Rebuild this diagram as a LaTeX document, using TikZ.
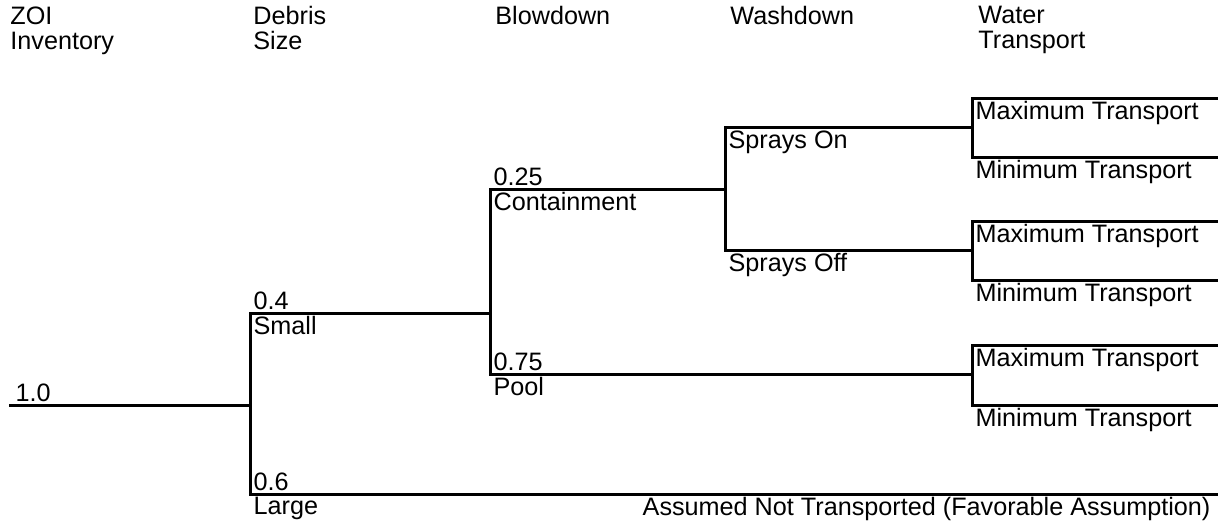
\documentclass[tikz,border=0pt]{standalone}
\usepackage{fontspec}
\setmainfont{Liberation Sans}
\usepackage{tikz}
\definecolor{ink}{HTML}{000000}
\tikzset{
  branch/.style={draw=ink, line width=1.5pt, line cap=rect, line join=miter},
  lab/.style={text=ink, font=\fontsize{12.6}{12.5}\selectfont, inner sep=1.6pt},
  hdr/.style={text=ink, font=\fontsize{12.6}{12.6}\selectfont, align=left, anchor=north west, inner sep=0pt},
  up/.style={lab, anchor=south west},
  dn/.style={lab, anchor=north west},
}

\begin{document}
\begin{tikzpicture}[x=0.5pt, y=-0.5pt]
  \useasboundingbox (0,0) rectangle (1218,521);
  % column headers
  \node[hdr] (hzoi) at (10,6) {ZOI\\Inventory};
  \node[hdr] (hsize) at (253,6) {Debris\\Size};
  \node[hdr] (hblow) at (495,6) {Blowdown};
  \node[hdr] (hwash) at (730,6) {Washdown};
  \node[hdr] (hwater) at (978,6) {Water\\Transport};
  % branch points
  \coordinate (zoi) at (10,405);
  \coordinate (zoiE) at (250,405);
  \coordinate (small) at (250,313);
  \coordinate (smallE) at (490,313);
  \coordinate (large) at (250,494);
  \coordinate (largeE) at (1218,494);
  \coordinate (cont) at (490,189);
  \coordinate (contE) at (725,189);
  \coordinate (pool) at (490,374);
  \coordinate (poolE) at (972,374);
  \coordinate (on) at (725,127);
  \coordinate (onE) at (972,127);
  \coordinate (off) at (725,250);
  \coordinate (offE) at (972,250);
  \foreach \i/\t/\b in {1/98/157, 2/221/280, 3/345/405} {
    \coordinate (max\i) at (972,\t);
    \coordinate (max\i E) at (1218,\t);
    \coordinate (min\i) at (972,\b);
    \coordinate (min\i E) at (1218,\b);
  }
  % tree
  \draw[branch] (zoi) -- (zoiE);
  \draw[branch] (small) -- (large);
  \draw[branch] (small) -- (smallE);
  \draw[branch] (large) -- (largeE);
  \draw[branch] (cont) -- (pool);
  \draw[branch] (cont) -- (contE);
  \draw[branch] (pool) -- (poolE);
  \draw[branch] (on) -- (off);
  \draw[branch] (on) -- (onE);
  \draw[branch] (off) -- (offE);
  \foreach \i in {1,2,3}
    \draw[branch] (max\i E) -- (max\i) -- (min\i) -- (min\i E);
  % labels
  \node[up] (p10) at ([xshift=1pt]zoi) {1.0};
  \node[up] (p04) at (small) {0.4};
  \node[dn] (lsmall) at (small) {Small};
  \node[up] (p06) at (large) {0.6};
  \node[dn] (llarge) at (large) {Large};
  \node[up] (p025) at (cont) {0.25};
  \node[dn] (lcont) at (cont) {Containment};
  \node[up] (p075) at (pool) {0.75};
  \node[dn] (lpool) at (pool) {Pool};
  \node[dn] (lon) at (on) {Sprays On};
  \node[dn] (loff) at (off) {Sprays Off};
  \foreach \i in {1,2,3} {
    \node[dn] (lmax\i) at (max\i) {Maximum Transport};
    \node[dn] (lmin\i) at (min\i) {Minimum Transport};
  }
  \node[lab, anchor=north east] (lnot) at (1214,494) {Assumed Not Transported (Favorable Assumption)};
\end{tikzpicture}
\end{document}
